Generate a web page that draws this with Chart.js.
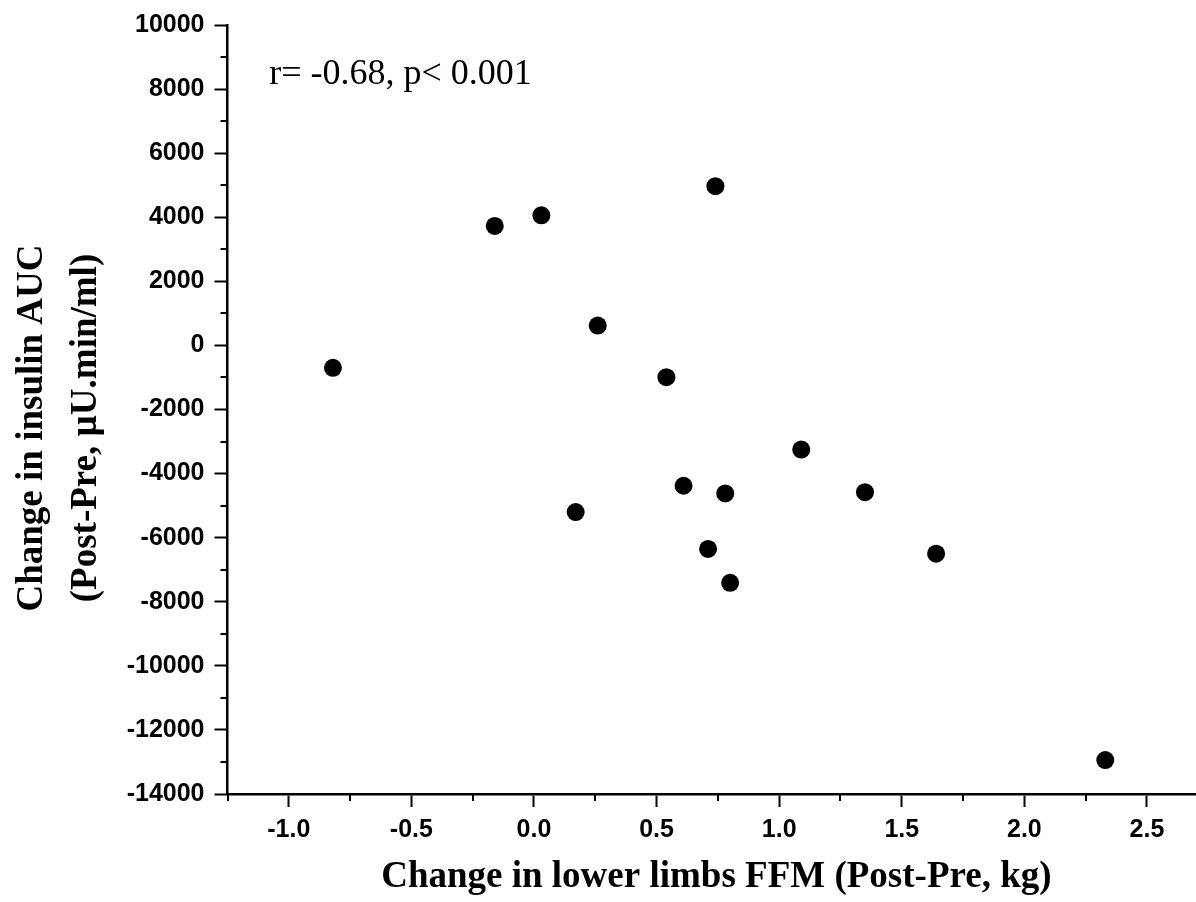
<!DOCTYPE html>
<html>
<head>
<meta charset="utf-8">
<script src="https://cdn.jsdelivr.net/npm/chart.js@4"></script>
<style>
  html, body { margin: 0; padding: 0; background: #fff; }
</style>
</head>
<body>
<canvas id="ffmChart" width="1196" height="902"></canvas>
<script>
/************ data ************/
const ffmChange = [-0.82, -0.16, 0.03, 0.74, 0.26, 0.54, 0.17, 0.61, 0.78, 1.09, 1.35, 0.71, 0.80, 1.64, 2.33];
const aucChange = [-700, 3730, 4060, 4970, 620, -990, -5200, -4380, -4620, -3250, -4580, -6350, -7410, -6500, -12940];

const xTicks = [-1.0, -0.5, 0.0, 0.5, 1.0, 1.5, 2.0, 2.5];
const xMinorTicks = [-1.25, -0.75, -0.25, 0.25, 0.75, 1.25, 1.75, 2.25];
const yTicks = [10000, 8000, 6000, 4000, 2000, 0, -2000, -4000, -6000, -8000, -10000, -12000, -14000];
const yMinorTicks = [9000, 7000, 5000, 3000, 1000, -1000, -3000, -5000, -7000, -9000, -11000, -13000];

const statText = 'r= -0.68, p< 0.001';

const ctx = document.getElementById('ffmChart');

// small ticks between the labelled ones
const minorTicks = {
  id: 'minorTicks',
  afterDraw(chart) {
    const c = chart.ctx;
    const xs = chart.scales.x;
    const ys = chart.scales.y;
    const area = chart.chartArea;
    c.save();
    c.strokeStyle = '#000';
    c.lineWidth = 2;
    c.beginPath();
    xMinorTicks.forEach(v => {
      const px = Math.round(xs.getPixelForValue(v));
      c.moveTo(px, area.bottom);
      c.lineTo(px, area.bottom + 7);
    });
    yMinorTicks.forEach(v => {
      const py = Math.round(ys.getPixelForValue(v));
      c.moveTo(area.left, py);
      c.lineTo(area.left - 7, py);
    });
    c.stroke();
    c.restore();
  }
};

// r / p text in the upper left
const statLabel = {
  id: 'statLabel',
  afterDraw(chart) {
    const c = chart.ctx;
    c.save();
    c.font = '36px "Liberation Serif"';
    c.fillStyle = '#000';
    c.textBaseline = 'alphabetic';
    c.textAlign = 'left';
    c.fillText(statText, chart.scales.x.getPixelForValue(-1.08), chart.scales.y.getPixelForValue(8150));
    c.restore();
  }
};

const tickFont = { family: 'Liberation Sans', weight: 'bold', size: 25 };

const config = {
  type: 'scatter',
  data: {
    datasets: [
      {
        data: ffmChange.map((x, i) => ({ x: x, y: aucChange[i] })),
        backgroundColor: '#000',
        borderWidth: 0,
        pointRadius: 9,
        pointHoverRadius: 9,
      },
    ],
  },
  options: {
    responsive: false,
    animation: false,
    layout: { autoPadding: false, padding: { top: 21, right: 0, bottom: 0, left: 0 } },
    scales: {
      x: {
        type: 'linear',
        min: -1.25,
        max: 2.7,
        afterBuildTicks: (scale) => { scale.ticks = xTicks.map(v => ({ value: v })); },
        afterFit: (scale) => { scale.height = 108; },
        ticks: {
          color: '#000',
          font: tickFont,
          padding: 8,
          maxRotation: 0,
          callback: (v) => Number(v).toFixed(1),
        },
        grid: {
          drawOnChartArea: false,
          drawTicks: true,
          tickLength: 13,
          tickWidth: 2,
          tickColor: '#000',
        },
        border: { display: true, color: '#000', width: 2.5 },
        title: {
          display: true,
          text: ' Change in lower limbs FFM (Post-Pre, kg)',
          color: '#000',
          font: { family: 'Liberation Serif', weight: 'bold', size: 37 },
          padding: { top: 0, bottom: 2 },
        },
      },
      y: {
        type: 'linear',
        min: -14000,
        max: 10000,
        afterBuildTicks: (scale) => { scale.ticks = yTicks.map(v => ({ value: v })); },
        afterFit: (scale) => { scale.width = 227.5; },
        ticks: {
          color: '#000',
          font: tickFont,
          padding: 10,
          callback: (v) => String(v),
        },
        grid: {
          drawOnChartArea: false,
          drawTicks: true,
          tickLength: 13,
          tickWidth: 2,
          tickColor: '#000',
        },
        border: { display: true, color: '#000', width: 2.5 },
        title: {
          display: true,
          // trailing spaces nudge the rotated title down to where the original sits
          text: ['Change in insulin AUC    ', '(Post-Pre, \u00b5U.min/ml)    '],
          color: '#000',
          font: { family: 'Liberation Serif', weight: 'bold', size: 37, lineHeight: 1.45 },
          padding: { top: 6, bottom: 0 },
        },
      },
    },
    plugins: {
      legend: { display: false },
      tooltip: { enabled: false },
    },
  },
  plugins: [minorTicks, statLabel],
};

new Chart(ctx, config);
</script>
</body>
</html>
